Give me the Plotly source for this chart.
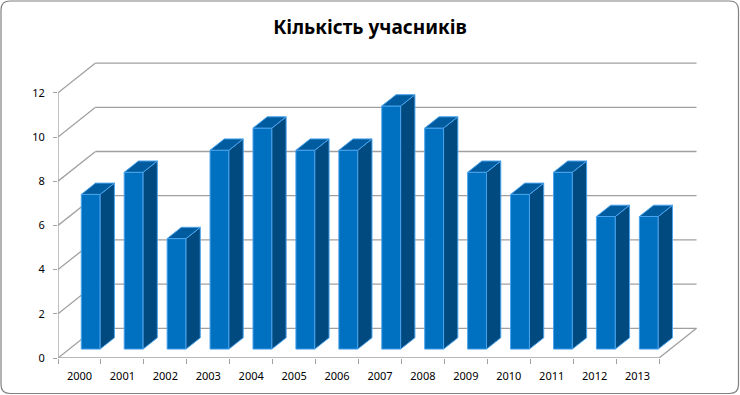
import plotly.graph_objects as go

# ---- data ----
years = ["2000", "2001", "2002", "2003", "2004", "2005", "2006",
         "2007", "2008", "2009", "2010", "2011", "2012", "2013"]
values = [7, 8, 5, 9, 10, 9, 9, 11, 10, 8, 7, 8, 6, 6]
y_ticks = [0, 2, 4, 6, 8, 10, 12]
title_text = "Кількість учасників"

# ---- geometry / style ----
W, H = 740, 395
ML, MR, MT, MB = 58, 40, 50, 37
PX_CAT = 42.93          # pixels per category
PX_VAL = 22.1           # pixels per value unit
DDX = 37.5 / PX_CAT     # full depth, x (category units)
DDY = 29.7 / PX_VAL     # full depth, y (value units)
F1, F2 = 0.30, 0.68     # bar depth band (fraction of full depth)
BAR_W = 0.44

FRONT = "#0070C0"
SIDE = "#004A80"
TOP = "#005C9F"
EDGE = "#4AA3EC"
GRID = "#A0A0A0"
FONT = "Noto Sans"

n = len(years)
y_max = max(y_ticks)
x_range = [-0.5, -0.5 + (W - ML - MR) / PX_CAT]
y_range = [0, (H - MT - MB) / PX_VAL]

shapes = []


def gline(x0, y0, x1, y1, width=1.3):
    shapes.append(dict(type="line", xref="x", yref="y", x0=x0, y0=y0, x1=x1, y1=y1,
                       line=dict(color=GRID, width=width), layer="below"))


def poly(pts, fill):
    d = "M " + " L ".join(f"{x:.4f},{y:.4f}" for x, y in pts) + " Z"
    shapes.append(dict(type="path", xref="x", yref="y", path=d, fillcolor=fill,
                       line=dict(color=EDGE, width=1), layer="above"))


x_left = -0.5
x_right = n - 0.5
# back wall gridlines and left wall diagonals
for v in y_ticks:
    gline(x_left + DDX, v + DDY, x_right + DDX, v + DDY)
    gline(x_left, v, x_left + DDX, v + DDY)
# floor front edge and right edge
gline(x_left, 0, x_right, 0)
gline(x_right, 0, x_right + DDX, DDY)
# front vertical axis line
gline(x_left, 0, x_left, y_max)

# side and top faces of bars
sdx = (F2 - F1) * DDX
sdy = (F2 - F1) * DDY
for i, v in enumerate(values):
    x0 = i - BAR_W / 2 + F1 * DDX
    x1 = i + BAR_W / 2 + F1 * DDX
    y0 = F1 * DDY
    y1 = v + F1 * DDY
    poly([(x1, y0), (x1 + sdx, y0 + sdy), (x1 + sdx, y1 + sdy), (x1, y1)], SIDE)
    poly([(x0, y1), (x1, y1), (x1 + sdx, y1 + sdy), (x0 + sdx, y1 + sdy)], TOP)

# chart border (rounded rectangle), pixel -> paper
pw, ph = W - ML - MR, H - MT - MB


def px(x):
    return (x - ML) / pw


def py(y):
    return (H - MB - y) / ph


bx0, by0, bx1, by1, r = 1, 1, 738.5, 393.5, 9
bd = (f"M {px(bx0 + r)},{py(by0)} L {px(bx1 - r)},{py(by0)} "
      f"Q {px(bx1)},{py(by0)} {px(bx1)},{py(by0 + r)} "
      f"L {px(bx1)},{py(by1 - r)} Q {px(bx1)},{py(by1)} {px(bx1 - r)},{py(by1)} "
      f"L {px(bx0 + r)},{py(by1)} Q {px(bx0)},{py(by1)} {px(bx0)},{py(by1 - r)} "
      f"L {px(bx0)},{py(by0 + r)} Q {px(bx0)},{py(by0)} {px(bx0 + r)},{py(by0)} Z")
shapes.append(dict(type="path", xref="paper", yref="paper", path=bd,
                   line=dict(color="#808080", width=1.2), layer="below"))

fig = go.Figure()
fig.add_trace(go.Bar(
    x=years, y=values,
    base=F1 * DDY,
    width=BAR_W,
    offset=-BAR_W / 2 + F1 * DDX,
    marker=dict(color=FRONT, line=dict(color=EDGE, width=1)),
    hoverinfo="skip",
))

fig.update_layout(
    width=W, height=H, autosize=False,
    margin=dict(l=ML, r=MR, t=MT, b=MB),
    paper_bgcolor="white", plot_bgcolor="rgba(0,0,0,0)",
    showlegend=False,
    shapes=shapes,
    title=dict(text="<b>" + title_text + "</b>", x=0.5, xanchor="center",
               y=1 - 27 / H, yanchor="middle",
               font=dict(family=FONT, size=19, color="black")),
    xaxis=dict(type="category", categoryorder="array", categoryarray=years,
               range=x_range, showgrid=False, showline=False, zeroline=False,
               ticks="outside", tickson="boundaries", ticklen=5, tickcolor=GRID,
               tickwidth=1.3, ticklabelstandoff=10,
               tickfont=dict(family=FONT, size=11, color="black")),
    yaxis=dict(range=y_range, tickvals=y_ticks, showgrid=False, showline=False,
               zeroline=False, ticks="outside", ticklen=4, tickcolor=GRID,
               tickwidth=1.3, ticklabelstandoff=6,
               tickfont=dict(family=FONT, size=11, color="black")),
)

fig.write_html("out.html")
